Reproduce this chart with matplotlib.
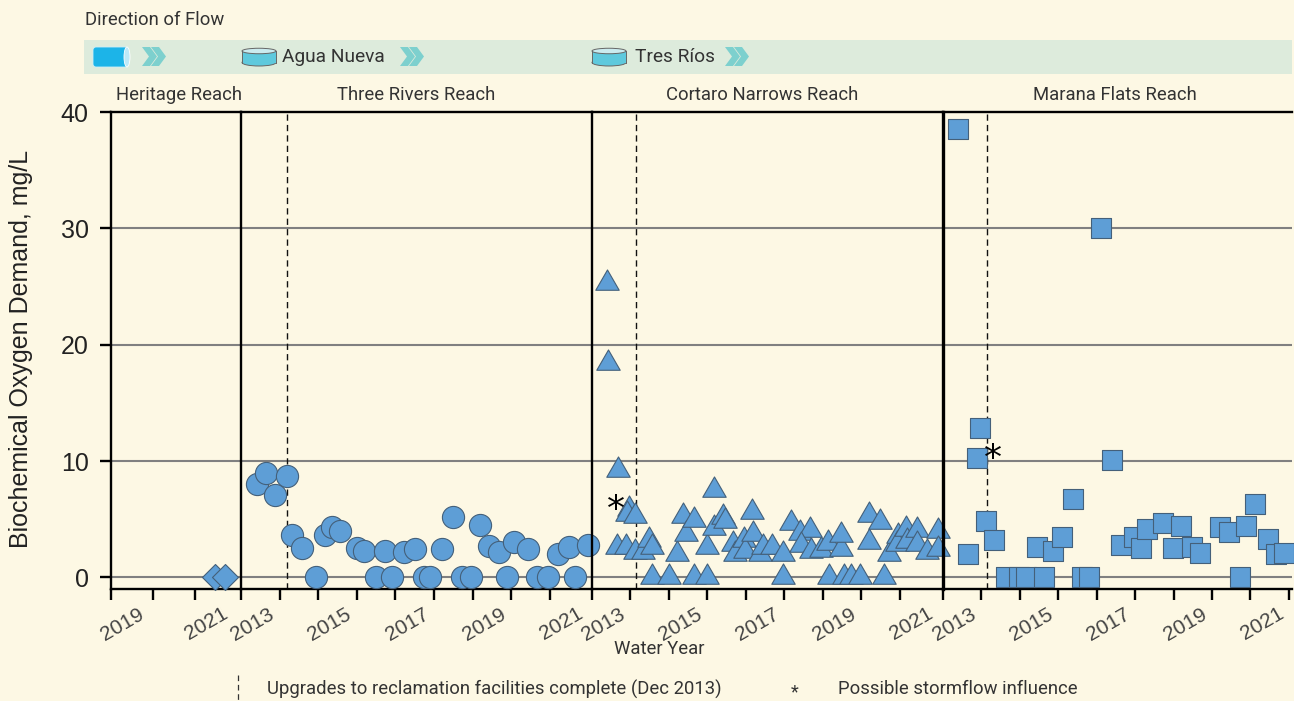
import matplotlib
matplotlib.use("Agg")
import matplotlib.pyplot as plt
from matplotlib.path import Path
from matplotlib.patches import Rectangle, Ellipse, Polygon, FancyBboxPatch
from matplotlib.transforms import ScaledTranslation

heritage_x = [2021.48, 2021.71]
heritage_y = [0, 0]

three_x = [2013.41, 2013.65, 2013.89, 2014.19, 2014.32, 2014.58, 2014.94, 2015.18, 2015.36, 2015.56,
           2016.01, 2016.19, 2016.50, 2016.73, 2016.91, 2017.22, 2017.51, 2017.74, 2017.90, 2018.21,
           2018.49, 2018.73, 2018.96, 2019.19, 2019.42, 2019.68, 2019.89, 2020.07, 2020.44, 2020.67,
           2020.95, 2021.21, 2021.50, 2021.65, 2021.99]
three_y = [8.0, 9.0, 7.1, 8.7, 3.6, 2.5, 0, 3.6, 4.3, 4.0,
           2.5, 2.3, 0, 2.3, 0, 2.2, 2.4, 0, 0, 2.4,
           5.2, 0, 0, 4.5, 2.7, 2.2, 0, 3.0, 2.4, 0,
           0, 2.0, 2.6, 0, 2.8]

cortaro_x = [2013.39, 2013.42, 2013.68, 2013.96, 2013.91, 2014.12, 2013.65, 2013.88, 2014.12, 2014.32,
             2014.48, 2014.56, 2014.56, 2015.00, 2015.21, 2015.36, 2015.44, 2015.65, 2015.65, 2015.99,
             2015.99, 2016.17, 2016.17, 2016.40, 2016.45, 2016.66, 2016.71, 2016.95, 2016.97, 2017.16,
             2017.18, 2017.36, 2017.44, 2017.68, 2017.96, 2017.96, 2018.17, 2018.40, 2018.66, 2018.43,
             2018.69, 2018.95, 2019.13, 2019.47, 2019.47, 2019.16, 2019.55, 2019.73, 2019.96, 2020.19,
             2020.48, 2020.19, 2020.58, 2020.71, 2020.95, 2020.92, 2021.16, 2021.18, 2021.44, 2021.44,
             2021.70, 2021.99, 2021.99]
cortaro_y = [25.3, 18.4, 9.2, 5.85, 5.45, 5.25, 2.65, 2.65, 2.15, 2.15,
             3.25, 2.65, 0, 0, 2.05, 5.25, 3.75, 4.95, 0, 0,
             2.65, 7.55, 4.25, 5.15, 4.85, 2.85, 2.05, 3.25, 2.25, 5.65,
             3.75, 2.05, 2.65, 2.65, 2.05, 0, 4.65, 3.85, 4.05, 2.75,
             2.25, 2.35, 2.95, 2.45, 3.65, 0, 0, 0, 0, 5.35,
             4.75, 3.05, 0, 2.05, 3.55, 2.85, 4.15, 3.15, 4.05, 2.85,
             2.15, 3.95, 2.45]

marana_x = [2013.39, 2013.65, 2013.88, 2013.96, 2014.12, 2014.33, 2014.64, 2014.98, 2015.16, 2015.63,
            2015.45, 2015.86, 2016.10, 2016.38, 2016.62, 2016.80, 2017.11, 2017.40, 2017.63, 2017.97,
            2018.15, 2018.31, 2018.72, 2018.98, 2019.19, 2019.48, 2019.69, 2020.21, 2020.44, 2020.73,
            2020.88, 2021.12, 2021.45, 2021.66, 2021.87]
marana_y = [38.5, 2.0, 10.3, 12.8, 4.85, 3.2, 0, 0, 0, 0,
            2.6, 2.3, 3.5, 6.7, 0, 0, 30.0, 10.1, 2.8, 3.5,
            2.5, 4.15, 4.7, 2.5, 4.4, 2.6, 2.1, 4.3, 3.9, 0,
            4.4, 6.3, 3.3, 2.0, 2.1]

reach_names = ["Heritage Reach", "Three Rivers Reach", "Cortaro Narrows Reach", "Marana Flats Reach"]
y_ticks = [0, 10, 20, 30, 40]
stations = ["Agua Nueva", "Tres Ríos"]
upgrade_year = 2014.18

BG = "#FDF8E4"
BLUE = "#5E9ED6"
EDGE = "#44607A"
GRID = "#808080"
TXT = "#333333"
W, H = 1294, 701
BODY = "Roboto"
AX_FONT = "Liberation Sans"

tri = Path([(0, 2/3), (-0.577, -1/3), (0.577, -1/3), (0, 2/3)], closed=True)

fig = plt.figure(figsize=(W/100, H/100), dpi=100, facecolor=BG)

def px_axes(l, r, t=112, b=589):
    return fig.add_axes([l/W, 1-b/H, (r-l)/W, (b-t)/H], facecolor="none")

sections = [
    dict(l=111, r=241, xlim=(2019, 2022.095), ticks=[2019, 2020, 2021], x=heritage_x, y=heritage_y,
         marker="D", s=175),
    dict(l=241, r=592, xlim=(2013, 2022.09), ticks=list(range(2013, 2022)), x=three_x, y=three_y,
         marker="o", s=255),
    dict(l=592, r=943, xlim=(2013, 2022.12), ticks=list(range(2013, 2022)), x=cortaro_x, y=cortaro_y,
         marker=tri, s=380),
    dict(l=943, r=1292, xlim=(2013, 2022.08), ticks=list(range(2013, 2023)), x=marana_x, y=marana_y,
         marker="s", s=215),
]

axes = []
for i, sec in enumerate(sections):
    ax = px_axes(sec["l"], sec["r"])
    axes.append(ax)
    ax.set_xlim(*sec["xlim"])
    ax.set_ylim(-1, 40)
    ax.spines["right"].set_visible(False)
    for sp in ("top", "bottom"):
        ax.spines[sp].set_linewidth(1.7)
    ax.spines["left"].set_linewidth(2.4 if i == 3 else 1.7)
    ax.set_yticks(y_ticks)
    for v in y_ticks[:-1]:
        ax.axhline(v, color=GRID, lw=1.5, zorder=1)
    if i == 0:
        ax.set_yticklabels([str(v) for v in y_ticks], fontsize=18, family=AX_FONT, color="#222222")
        ax.tick_params(axis="y", length=8, width=1.7, pad=8)
    else:
        ax.tick_params(axis="y", length=0, labelleft=False)
    ax.set_xticks(sec["ticks"])
    labels = [str(t) if t % 2 == 1 else "" for t in sec["ticks"]]
    ax.set_xticklabels(labels, rotation=30, ha="center", fontsize=15, family=AX_FONT, color="#444444")
    ax.tick_params(axis="x", length=8, width=1.7, pad=3)
    off = ScaledTranslation(11.5/100, 0, fig.dpi_scale_trans)
    for lab in ax.get_xticklabels():
        lab.set_transform(lab.get_transform() + off)
    ax.scatter(sec["x"], sec["y"], marker=sec["marker"], s=sec["s"], facecolor=BLUE, edgecolor=EDGE,
               linewidth=0.8, clip_on=False, zorder=5)
    if i > 0:
        ax.axvline(upgrade_year if i == 1 else 2014.15, color="#111111", lw=1, ls=(0, (4.5, 3)), zorder=2)

axes[2].text(2013.62, 5.8, "*", fontsize=26, ha="center", va="center", color="black", family="DejaVu Sans", zorder=6)
axes[3].text(2014.3, 10.15, "*", fontsize=26, ha="center", va="center", color="black", family="DejaVu Sans", zorder=6)

ov = fig.add_axes([0, 0, 1, 1], facecolor="none")
ov.set_xlim(0, W)
ov.set_ylim(H, 0)
ov.axis("off")
ov.set_zorder(-1)

def t(x, y, s, size=13.3, ha="left"):
    ov.text(x, y, s, fontsize=size, ha=ha, va="center", color=TXT, family=BODY)

t(85, 20, "Direction of Flow")
ov.add_patch(Rectangle((84, 40), 1208, 34, facecolor="#DDEBDC", edgecolor="none"))

ov.add_patch(FancyBboxPatch((93, 47), 35, 20, boxstyle="round,pad=0,rounding_size=3",
                            facecolor="#1CB4E8", edgecolor="#CDEFF8", lw=0.6))
ov.add_patch(Ellipse((127, 57), 6, 20, facecolor="#BDE9F8", edgecolor="#FFFFFF", lw=0.6))

def chevrons(x):
    for dx in (0, 9):
        ov.add_patch(Polygon([(x+dx, 47), (x+dx+8, 47), (x+dx+15, 56.5), (x+dx+8, 66), (x+dx, 66), (x+dx+7, 56.5)],
                             closed=True, facecolor="#7DD0CE", edgecolor="none"))

def cyl(x):
    ov.add_patch(Ellipse((x+17, 62.5), 34, 7, facecolor="#5FC9DD", edgecolor="#666666", lw=0.7))
    ov.add_patch(Rectangle((x, 51), 34, 12, facecolor="#5FC9DD", edgecolor="none"))
    ov.plot([x, x], [51, 63], color="#666666", lw=0.7)
    ov.plot([x+34, x+34], [51, 63], color="#666666", lw=0.7)
    ov.add_patch(Ellipse((x+17, 51), 34, 5.5, facecolor="#CBEBEF", edgecolor="#666666", lw=0.7))

chevrons(142)
cyl(242)
t(282, 56.5, stations[0], 13.8)
chevrons(400)
cyl(592)
t(635, 56.5, stations[1], 13.8)
chevrons(725)

for name, cx in zip(reach_names, [179, 416, 762, 1115]):
    t(cx, 95, name, ha="center")

fig.text(21/W, 1-349/H, "Biochemical Oxygen Demand, mg/L", rotation=90, ha="center", va="center",
         fontsize=18, family=AX_FONT, color="#222222")
t(659, 649, "Water Year", ha="center")

ov.plot([238, 238], [675, 701], color="#333333", lw=0.9, ls=(0, (4.5, 3)))
t(267, 689, "Upgrades to reclamation facilities complete (Dec 2013)")
t(795, 692, "*", 13, ha="center")
t(838, 689, "Possible stormflow influence")

fig.savefig("out.png", dpi=100, facecolor=BG)
